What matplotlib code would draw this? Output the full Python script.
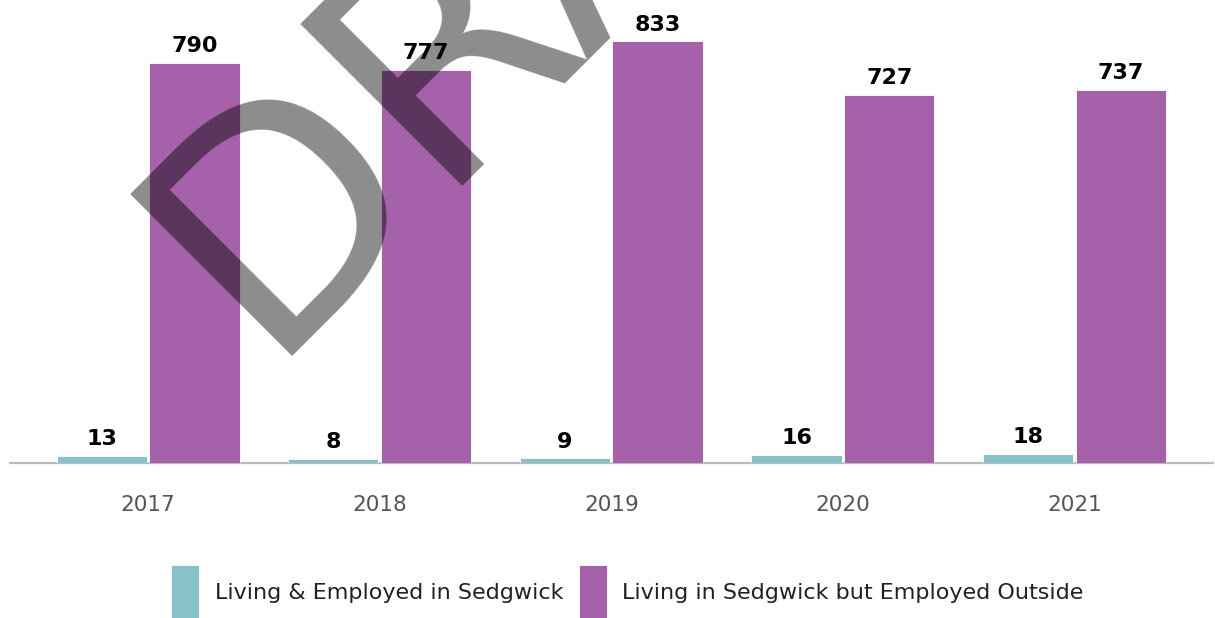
import numpy as np
import matplotlib
matplotlib.use("Agg")
import matplotlib.pyplot as plt

# data
years = ["2017", "2018", "2019", "2020", "2021"]
living_employed = [13, 8, 9, 16, 18]
employed_outside = [790, 777, 833, 727, 737]
series_names = ["Living & Employed in Sedgwick", "Living in Sedgwick but Employed Outside"]

teal = "#86c2c8"
purple = "#a561a9"

plt.rcParams['font.family'] = ['DejaVu Sans']

fig = plt.figure(figsize=(12.15, 6.18), dpi=100)
ax = fig.add_axes([0.0082, 0.2508, 0.9898, 0.7492])

x = np.arange(len(years))
w = 0.39
b1 = ax.bar(x - 0.2, living_employed, w, color=teal, edgecolor="white", linewidth=0.6,
            label=series_names[0], zorder=2)
b2 = ax.bar(x + 0.2, employed_outside, w, color=purple, edgecolor="white", linewidth=0.6,
            label=series_names[1], zorder=2)

for bars in (b1, b2):
    ax.bar_label(bars, padding=5, fontsize=16, fontweight="bold", color="black")

ax.set_xlim(-0.596, 4.596)
ax.set_ylim(0, 915)
ax.set_xticks(x)
ax.set_xticklabels(years, fontsize=15.5, color="#555555")
ax.tick_params(axis="x", length=0, pad=23)
ax.set_yticks([])
for side in ("top", "left", "right"):
    ax.spines[side].set_visible(False)
ax.spines["bottom"].set_color("#bbbbbb")
ax.spines["bottom"].set_linewidth(1.6)
ax.spines["bottom"].set_zorder(1)

leg = fig.legend(handles=[b1, b2], loc="center", bbox_to_anchor=(0.5165, 0.0405),
                 ncol=2, frameon=False, fontsize=16, handlelength=1.25, handleheight=3.5,
                 handletextpad=0.7, columnspacing=0.7)
for t in leg.get_texts():
    t.set_color("#222222")

# watermark
fig.text(0.2157, 0.4223, "DRAFT", fontsize=226, color=(0, 0, 0, 0.45), rotation=45,
         rotation_mode="anchor", ha="left", va="baseline", zorder=10)

fig.savefig("out.png", dpi=100)
